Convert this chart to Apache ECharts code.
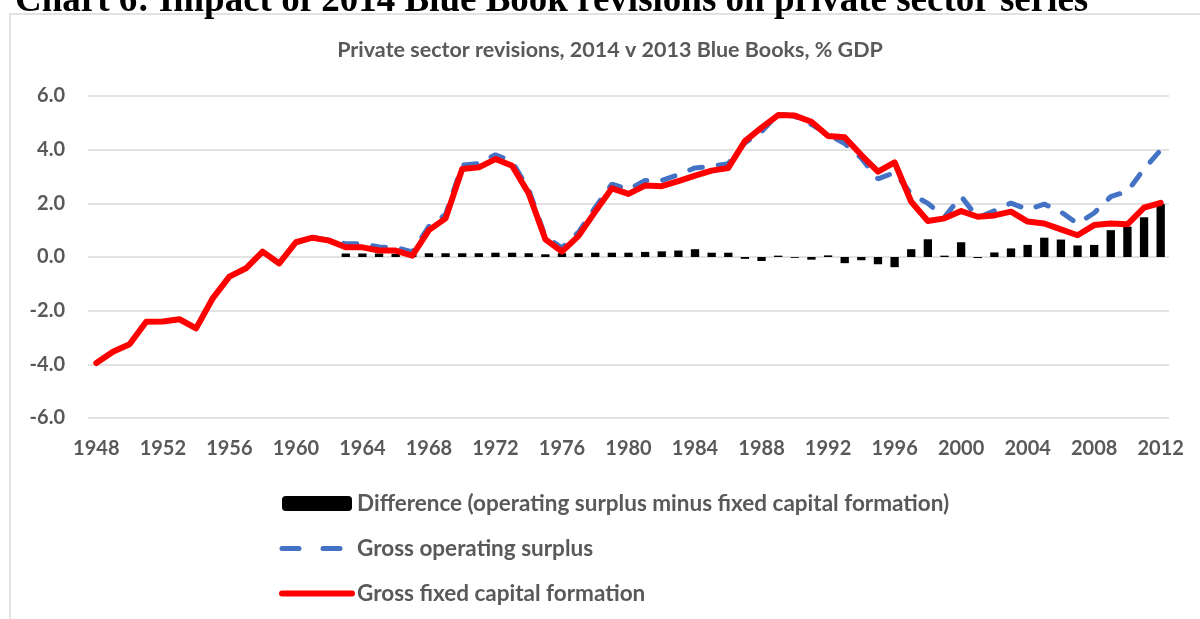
<!DOCTYPE html>
<html>
<head>
<meta charset="utf-8">
<script src="https://cdn.jsdelivr.net/npm/echarts@6/dist/echarts.min.js"></script>
<style>
  html, body { margin: 0; padding: 0; background: #fff; }
  #chart { width: 1200px; height: 619px; }
</style>
</head>
<body>
<div id="chart"></div>
<script>
// years on the category axis
const years = [
  '1948','1949','1950','1951','1952','1953','1954','1955','1956','1957',
  '1958','1959','1960','1961','1962','1963','1964','1965','1966','1967',
  '1968','1969','1970','1971','1972','1973','1974','1975','1976','1977',
  '1978','1979','1980','1981','1982','1983','1984','1985','1986','1987',
  '1988','1989','1990','1991','1992','1993','1994','1995','1996','1997',
  '1998','1999','2000','2001','2002','2003','2004','2005','2006','2007',
  '2008','2009','2010','2011','2012'
];

// difference (operating surplus minus fixed capital formation), from 1963
const difference = [
  null, null, null, null, null, null, null, null, null, null,
  null, null, null, null, null, 0.13, 0.13, 0.13, 0.12, 0.14,
  0.14, 0.14, 0.14, 0.14, 0.16, 0.16, 0.14, 0.10, 0.14, 0.14,
  0.16, 0.16, 0.16, 0.19, 0.21, 0.24, 0.29, 0.16, 0.16, -0.07,
  -0.15, 0.05, -0.03, -0.10, 0.06, -0.23, -0.12, -0.27, -0.38, 0.29,
  0.66, 0.05, 0.55, -0.04, 0.17, 0.32, 0.45, 0.72, 0.65, 0.43,
  0.45, 1.00, 1.13, 1.48, 1.97
];

// gross operating surplus
const grossSurplus = [
  -3.95, -3.53, -3.25, -2.41, -2.40, -2.32, -2.66, -1.54, -0.73, -0.42,
  0.20, -0.24, 0.55, 0.72, 0.63, 0.49, 0.49, 0.37, 0.36, 0.19,
  1.14, 1.58, 3.42, 3.48, 3.81, 3.56, 2.51, 0.76, 0.34, 0.93,
  1.85, 2.72, 2.51, 2.85, 2.85, 3.07, 3.32, 3.38, 3.48, 4.25,
  4.67, 5.34, 5.24, 4.94, 4.57, 4.23, 3.68, 2.91, 3.15, 2.35,
  2.00, 1.49, 2.26, 1.46, 1.72, 2.01, 1.77, 1.97, 1.68, 1.24,
  1.64, 2.25, 2.45, 3.28, 3.99
];

// gross fixed capital formation
const grossCapital = [
  -3.95, -3.53, -3.25, -2.41, -2.40, -2.32, -2.66, -1.54, -0.73, -0.42,
  0.20, -0.24, 0.55, 0.72, 0.61, 0.36, 0.36, 0.24, 0.24, 0.05,
  1.00, 1.44, 3.28, 3.34, 3.65, 3.40, 2.37, 0.66, 0.20, 0.79,
  1.69, 2.56, 2.35, 2.66, 2.64, 2.83, 3.03, 3.22, 3.32, 4.32,
  4.82, 5.29, 5.27, 5.04, 4.51, 4.46, 3.80, 3.18, 3.53, 2.06,
  1.34, 1.44, 1.71, 1.50, 1.55, 1.69, 1.32, 1.25, 1.03, 0.81,
  1.19, 1.25, 1.22, 1.84, 2.02
];

const font = 'Lato';
const grey = '#595959';

const myChart = echarts.init(document.getElementById('chart'), null, { renderer: 'canvas' });

const option = {
  backgroundColor: '#ffffff',
  animation: false,
  graphic: [
    {
      type: 'rect',
      z: -10,
      shape: { x: 10, y: 14, width: 1300, height: 800 },
      style: { fill: 'none', stroke: '#d9d9d9', lineWidth: 1.5 }
    },
    {
      type: 'text',
      style: {
        x: 15, y: 1,
        text: 'Chart 6: Impact of 2014 Blue Book revisions on private sector series',
        font: 'bold 37px "Liberation Serif"',
        fill: '#000',
        align: 'left',
        verticalAlign: 'middle'
      }
    },
    {
      type: 'text',
      style: {
        x: 610, y: 50,
        text: 'Private sector revisions, 2014 v 2013 Blue Books, % GDP',
        font: 'bold 21.5px Lato',
        fill: grey,
        align: 'center',
        verticalAlign: 'middle'
      }
    }
  ],
  grid: {
    left: 88,
    right: 31,
    top: 96,
    bottom: 201
  },
  legend: {
    orient: 'vertical',
    left: 279,
    top: 492,
    padding: 0,
    itemWidth: 70,
    itemHeight: 15,
    itemGap: 22,
    textStyle: { fontFamily: font, fontWeight: 'bold', fontSize: 22.5, color: grey },
    data: [
      { name: 'Difference (operating surplus minus fixed capital formation)' },
      {
        name: 'Gross operating surplus',
        itemStyle: { opacity: 0 },
        lineStyle: { color: '#4472C4', width: 5, type: [17, 24], cap: 'round' }
      },
      {
        name: 'Gross fixed capital formation',
        itemStyle: { opacity: 0 },
        lineStyle: { color: '#FF0000', width: 6, cap: 'round' }
      }
    ]
  },
  xAxis: {
    type: 'category',
    data: years,
    boundaryGap: true,
    axisLine: { show: false },
    axisTick: { show: false },
    axisLabel: {
      interval: 3,
      margin: 21,
      fontFamily: font,
      fontWeight: 'bold',
      fontSize: 20,
      color: grey
    }
  },
  yAxis: {
    type: 'value',
    min: -6,
    max: 6,
    interval: 2,
    axisLine: { show: false },
    axisTick: { show: false },
    splitLine: { lineStyle: { color: '#d9d9d9', width: 1.5 } },
    axisLabel: {
      margin: 23,
      fontFamily: font,
      fontWeight: 'bold',
      fontSize: 20,
      color: grey,
      formatter: function (v) { return v.toFixed(1); }
    }
  },
  series: [
    {
      name: 'Difference (operating surplus minus fixed capital formation)',
      type: 'bar',
      barWidth: '50%',
      itemStyle: { color: '#000000' },
      data: difference,
      z: 1
    },
    {
      name: 'Gross operating surplus',
      type: 'line',
      symbol: 'none',
      data: grossSurplus,
      itemStyle: { color: '#4472C4' },
      lineStyle: { color: '#4472C4', width: 5, type: [13, 16], cap: 'round' },
      z: 2
    },
    {
      name: 'Gross fixed capital formation',
      type: 'line',
      symbol: 'none',
      data: grossCapital,
      itemStyle: { color: '#FF0000' },
      lineStyle: { color: '#FF0000', width: 6, cap: 'round', join: 'round' },
      z: 3
    }
  ]
};

myChart.setOption(option);
</script>
</body>
</html>
